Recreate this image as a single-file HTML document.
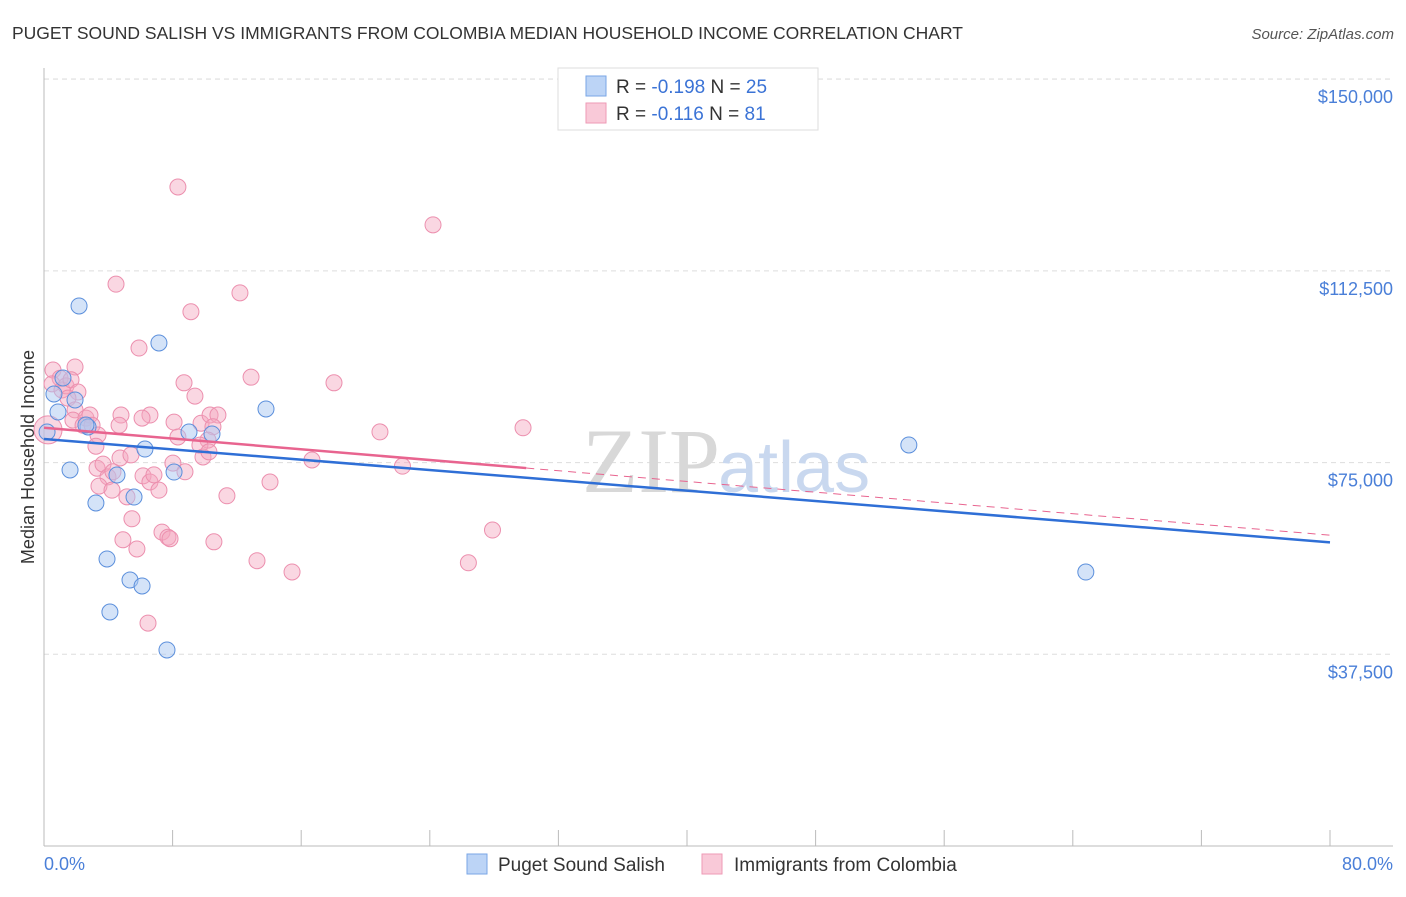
<!DOCTYPE html>
<html><head><meta charset="utf-8"><style>
body{margin:0;background:#fff;font-family:"Liberation Sans",sans-serif;}
</style></head><body>
<svg width="1406" height="892" xmlns="http://www.w3.org/2000/svg">
<text x="12" y="39" font-size="17.5" fill="#333">PUGET SOUND SALISH VS IMMIGRANTS FROM COLOMBIA MEDIAN HOUSEHOLD INCOME CORRELATION CHART</text>
<text x="1394" y="39" font-size="15" fill="#555" font-style="italic" text-anchor="end">Source: ZipAtlas.com</text>
<g id="grid"></g>
<text x="720" y="492" font-size="92" fill="#d8d8d8" text-anchor="end" font-family="Liberation Serif,serif">ZIP</text>
<text x="718" y="492" font-size="72" fill="#c9d8ef">atlas</text>
<g id="marks"></g>
<text transform="translate(34,457) rotate(-90)" font-size="18" fill="#333" text-anchor="middle">Median Household Income</text>
<text x="44" y="870" font-size="18" fill="#4a7fd8">0.0%</text>
<text x="1393" y="870" font-size="18" fill="#4a7fd8" text-anchor="end">80.0%</text>
<g>
<rect x="558" y="68" width="260" height="62" fill="#fff" stroke="#ddd"/>
<rect x="586" y="76" width="20" height="20" fill="#bcd4f6" stroke="#7aa6e6"/>
<rect x="586" y="103" width="20" height="20" fill="#f9c9d8" stroke="#ee9ab6"/>
<text x="616" y="93" font-size="19" fill="#333">R = <tspan fill="#3b73d6">-0.198</tspan>   N = <tspan fill="#3b73d6">25</tspan></text>
<text x="616" y="120" font-size="19" fill="#333">R =  <tspan fill="#3b73d6">-0.116</tspan>   N =  <tspan fill="#3b73d6">81</tspan></text>
</g>
<g>
<rect x="467" y="854" width="20" height="20" fill="#bcd4f6" stroke="#7aa6e6"/>
<text x="498" y="871" font-size="19" fill="#333">Puget Sound Salish</text>
<rect x="702" y="854" width="20" height="20" fill="#f9c9d8" stroke="#ee9ab6"/>
<text x="734" y="871" font-size="19" fill="#333">Immigrants from Colombia</text>
</g>
</svg>
<script>
const yTicks=[37500,75000,112500,150000];
const yTickLabels=["$37,500","$75,000","$112,500","$150,000"];
const xTicks=[0,8,16,24,32,40,48,56,64,72,80];
const blueX=[0.19,0.87,0.62,1.62,2.18,2.74,3.23,3.92,4.10,4.54,5.35,5.60,6.10,6.28,7.15,7.65,8.09,9.02,10.45,13.81,53.8,64.81,1.18,1.93,2.61];
const blueY=[80980,84900,88420,73550,105630,81960,67090,56140,45770,72570,52030,68260,50860,77650,98390,38340,73150,80980,80590,85480,78440,53590,91540,87240,82350];
const pinkX=[8.33,24.2,4.48,12.19,9.14,5.91,12.88,18.04,8.71,9.39,0.56,1.00,0.50,1.12,1.37,1.93,1.68,2.11,1.49,1.93,1.80,2.61,2.86,2.43,2.99,3.36,4.79,6.59,4.67,6.10,8.09,8.33,9.77,10.33,10.82,10.51,10.20,9.70,9.89,10.26,20.9,29.8,3.23,3.30,3.67,3.98,4.29,4.73,3.42,4.23,5.16,5.41,6.16,6.59,6.84,7.15,8.02,8.77,11.38,14.06,16.67,22.3,5.47,4.91,5.78,7.34,7.71,7.84,10.57,13.25,15.43,26.4,27.9,6.47,0.25];
const pinkY=[128.9,121.5,109.9,108.2,104.5,97.4,91.7,90.6,90.6,88.0,93.1,91.5,90.4,89.2,90.0,93.7,91.2,88.8,87.6,85.3,83.3,83.7,84.3,82.3,82.3,80.4,84.3,84.3,82.3,83.7,82.9,80.0,82.7,84.3,84.3,82.0,79.4,78.4,76.1,77.1,81.0,81.8,78.2,73.9,74.7,72.2,73.2,75.9,70.4,69.6,68.3,76.5,72.4,71.2,72.6,69.6,74.9,73.2,68.5,71.2,75.5,74.3,64.0,59.9,58.1,61.4,60.4,60.1,59.5,55.8,53.6,55.4,61.8,43.6,81.4].map(v=>v*1000);
const blueTrend=[79600,59400];   // value at 0% and 80%
const pinkTrend=[81800,60800];
const pinkSolidEnd=30;
const X=p=>44+p/80*1286, Y=v=>846-v/195.6;
const NS="http://www.w3.org/2000/svg";
function mk(t,a,parent){const e=document.createElementNS(NS,t);for(const k in a)e.setAttribute(k,a[k]);parent.appendChild(e);return e;}
const grid=document.getElementById('grid'), marks=document.getElementById('marks');
yTicks.forEach((v,i)=>{
 const l=mk('line',{x1:44,x2:1393,y1:Y(v),y2:Y(v),stroke:'#ddd','stroke-dasharray':'5,4'},grid);
 
 
 const t=mk('text',{x:1393,y:Y(v)+24,'font-size':18,fill:'#4a7fd8','text-anchor':'end'},grid);
 t.textContent=yTickLabels[i];
 
 
});
const topL=mk('line',{x1:44,x2:1393,y1:79,y2:79,stroke:'#ddd','stroke-dasharray':'5,4'},grid);


const ya=mk('line',{x1:44,x2:44,y1:68,y2:846,stroke:'#bbb'},grid);


const xa=mk('line',{x1:44,x2:1393,y1:846,y2:846,stroke:'#bbb'},grid);


xTicks.forEach(p=>{const t=mk('line',{x1:X(p),x2:X(p),y1:830,y2:846,stroke:'#bbb'},grid);
 
 });
pinkX.forEach((x,i)=>{const c=mk('circle',{cx:X(x),cy:Y(pinkY[i]),r:i==pinkX.length-1?14:8,fill:'#f4a6bf','fill-opacity':0.45,stroke:'#ec8fae','stroke-width':1},marks);
 
 });
blueX.forEach((x,i)=>{const c=mk('circle',{cx:X(x),cy:Y(blueY[i]),r:8,fill:'#a9c7f1','fill-opacity':0.5,stroke:'#5b8fdc','stroke-width':1},marks);
 
 });
const pv=p=>pinkTrend[0]+(pinkTrend[1]-pinkTrend[0])*p/80;
const bt=mk('line',{x1:X(0),y1:Y(blueTrend[0]),x2:X(80),y2:Y(blueTrend[1]),stroke:'#2f6fd6','stroke-width':2.5},marks);


const pt=mk('line',{x1:X(0),y1:Y(pv(0)),x2:X(pinkSolidEnd),y2:Y(pv(pinkSolidEnd)),stroke:'#e8648f','stroke-width':2.5},marks);


const pd=mk('line',{x1:X(pinkSolidEnd),y1:Y(pv(pinkSolidEnd)),x2:X(80),y2:Y(pv(80)),stroke:'#e8648f','stroke-width':1,'stroke-dasharray':'8,6'},marks);


</script>
</body></html>
